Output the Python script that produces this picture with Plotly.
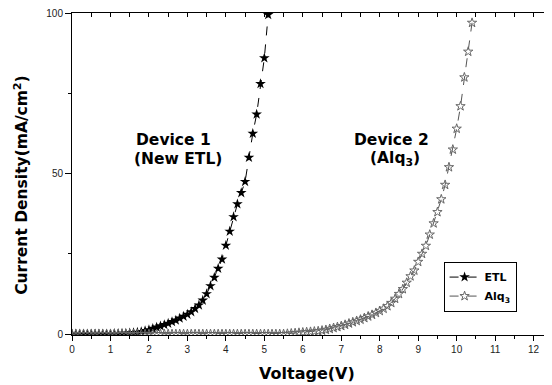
import plotly.graph_objects as go

# ---- data ----
etl_voltage = [0.0, 0.1, 0.2, 0.3, 0.4, 0.5, 0.6, 0.7, 0.8, 0.9,
               1.0, 1.1, 1.2, 1.3, 1.4, 1.5, 1.6, 1.7, 1.8, 1.9,
               2.0, 2.1, 2.2, 2.3, 2.4, 2.5, 2.6, 2.7, 2.8, 2.9,
               3.0, 3.1, 3.2, 3.3, 3.4, 3.5, 3.6, 3.7, 3.8, 3.9,
               4.0, 4.1, 4.2, 4.3, 4.4, 4.5, 4.6, 4.7, 4.8, 4.9,
               5.0, 5.1]
etl_current = [0.0, 0.0, 0.0, 0.0, 0.0, 0.0, 0.0, 0.0, 0.0, 0.0,
               0.0, 0.1, 0.1, 0.2, 0.2, 0.3, 0.4, 0.5, 0.7, 1.0,
               1.3, 1.7, 2.1, 2.5, 2.9, 3.3, 3.8, 4.3, 4.9, 5.5,
               6.1, 6.9, 7.9, 9.0, 10.5, 12.5, 15.0, 17.6, 20.4, 23.3,
               27.6, 32.0, 36.5, 40.5, 44.0, 47.5, 55.0, 62.5, 68.5, 78.0,
               86.0, 99.5]

alq_voltage = [0.0, 0.1, 0.2, 0.3, 0.4, 0.5, 0.6, 0.7, 0.8, 0.9,
               1.0, 1.1, 1.2, 1.3, 1.4, 1.5, 1.6, 1.7, 1.8, 1.9,
               2.0, 2.1, 2.2, 2.3, 2.4, 2.5, 2.6, 2.7, 2.8, 2.9,
               3.0, 3.1, 3.2, 3.3, 3.4, 3.5, 3.6, 3.7, 3.8, 3.9,
               4.0, 4.1, 4.2, 4.3, 4.4, 4.5, 4.6, 4.7, 4.8, 4.9,
               5.0, 5.1, 5.2, 5.3, 5.4, 5.5, 5.6, 5.7, 5.8, 5.9,
               6.0, 6.1, 6.2, 6.3, 6.4, 6.5, 6.6, 6.7, 6.8, 6.9,
               7.0, 7.1, 7.2, 7.3, 7.4, 7.5, 7.6, 7.7, 7.8, 7.9,
               8.0, 8.1, 8.2, 8.3, 8.4, 8.5, 8.6, 8.7, 8.8, 8.9,
               9.0, 9.1, 9.2, 9.3, 9.4, 9.5, 9.6, 9.7, 9.8, 9.9,
               10.0, 10.1, 10.2, 10.3, 10.4]
alq_current = [0.0, 0.0, 0.0, 0.0, 0.0, 0.0, 0.0, 0.0, 0.0, 0.0,
               0.0, 0.0, 0.0, 0.0, 0.0, 0.0, 0.0, 0.0, 0.0, 0.0,
               0.0, 0.0, 0.0, 0.0, 0.0, 0.0, 0.0, 0.0, 0.0, 0.0,
               0.0, 0.0, 0.0, 0.0, 0.0, 0.0, 0.0, 0.0, 0.0, 0.0,
               0.0, 0.0, 0.0, 0.0, 0.0, 0.0, 0.0, 0.0, 0.0, 0.0,
               0.0, 0.0, 0.0, 0.0, 0.0, 0.0, 0.1, 0.2, 0.3, 0.4,
               0.5, 0.6, 0.7, 0.8, 0.9, 1.1, 1.3, 1.6, 1.9, 2.2,
               2.5, 2.9, 3.3, 3.7, 4.1, 4.5, 5.0, 5.5, 6.0, 6.6,
               7.2, 7.9, 8.7, 9.7, 11.0, 12.5, 14.0, 16.0, 18.0, 19.8,
               22.5, 25.0, 27.5, 31.0, 34.5, 38.0, 42.0, 46.5, 52.0, 57.5,
               64.0, 71.0, 80.0, 88.0, 97.0]

series_names = ["ETL", "Alq<sub>3</sub>"]
x_tick_values = list(range(0, 13))
y_tick_values = [0, 50, 100]
x_range = [0, 12.4]
y_range = [-0.3, 100.05]

FONT = "Liberation Sans, Arial, sans-serif"
BOLD = "DejaVu Sans, Liberation Sans, sans-serif"

fig = go.Figure()
fig.add_trace(go.Scatter(
    x=etl_voltage, y=etl_current, name=series_names[0], mode="lines+markers",
    line=dict(color="black", width=1, dash="dash"),
    marker=dict(symbol="star", size=8, color="black"),
))
fig.add_trace(go.Scatter(
    x=alq_voltage, y=alq_current, name=series_names[1], mode="lines+markers",
    line=dict(color="#555555", width=1, dash="dash"),
    marker=dict(symbol="star-open", size=7, color="#666666", line=dict(width=1)),
))
# invisible helper trace so the mirrored top/right axes are drawn
fig.add_trace(go.Scatter(x=[x_range[0]], y=[y_range[0]], xaxis="x2", yaxis="y2",
                         mode="markers", marker=dict(opacity=0), showlegend=False,
                         hoverinfo="skip"))

annots = [
    ("Device 1", 2.63, 60.4), ("(New ETL)", 2.76, 54.5),
    ("Device 2", 8.3, 60.4), ("(Alq<sub>3</sub>)", 8.39, 54.5),
]
for txt, ax, ay in annots:
    fig.add_annotation(x=ax, y=ay, text=txt, showarrow=False,
                       font=dict(family=BOLD, size=15.5, color="black", weight="bold"))

fig.add_annotation(xref="paper", yref="paper", x=0.493, y=-0.12, yanchor="middle",
                   text="Voltage(V)", showarrow=False,
                   font=dict(family=BOLD, size=16, color="black", weight="bold"))
fig.add_annotation(xref="paper", yref="paper", x=-0.105, y=0.466, textangle=-90,
                   xanchor="center", yanchor="middle",
                   text="Current Density(mA/cm<sup>2</sup>)", showarrow=False,
                   font=dict(family=BOLD, size=15.5, color="black", weight="bold"))

# the page body adds an 8px margin, so the figure is 8px smaller and shifted
fig.update_layout(
    width=544, height=377,
    margin=dict(l=64, r=3, t=5, b=50, autoexpand=False),
    paper_bgcolor="white", plot_bgcolor="white",
    font=dict(family=FONT, color="black"),
    showlegend=True,
    legend=dict(x=0.779, y=0.228, xanchor="left", yanchor="top",
                bordercolor="black", borderwidth=1, bgcolor="white",
                font=dict(family=BOLD, size=11, color="black", weight="bold"),
                tracegroupgap=0, itemwidth=30),
    xaxis=dict(range=x_range, tickvals=x_tick_values, ticks="outside", ticklen=5,
               tickcolor="black", showline=True, linecolor="black", linewidth=1,
               showgrid=False, zeroline=False, automargin=False,
               tickfont=dict(size=10, color="#222222"), ticklabeloverflow="allow",
               minor=dict(dtick=0.5, tick0=0, ticks="outside", ticklen=3, tickcolor="black")),
    yaxis=dict(range=y_range, tickvals=y_tick_values, ticks="outside", ticklen=6,
               tickcolor="black", showline=True, linecolor="black", linewidth=1,
               showgrid=False, zeroline=False, automargin=False,
               tickfont=dict(size=10, color="#222222"), ticklabeloverflow="allow",
               minor=dict(dtick=25, tick0=0, ticks="outside", ticklen=3, tickcolor="black")),
    xaxis2=dict(range=x_range, overlaying="x", side="top", anchor="y2",
                ticks="inside", ticklen=4, tickcolor="black", dtick=0.5, tick0=0,
                showticklabels=False, showline=True, linecolor="black", showgrid=False,
                zeroline=False, automargin=False),
    yaxis2=dict(range=y_range, overlaying="y", side="right", anchor="x2",
                ticks="inside", ticklen=5, tickcolor="black", dtick=25, tick0=0,
                showticklabels=False, showline=True, linecolor="black", showgrid=False,
                zeroline=False, automargin=False),
)

fig.write_html("out.html")
